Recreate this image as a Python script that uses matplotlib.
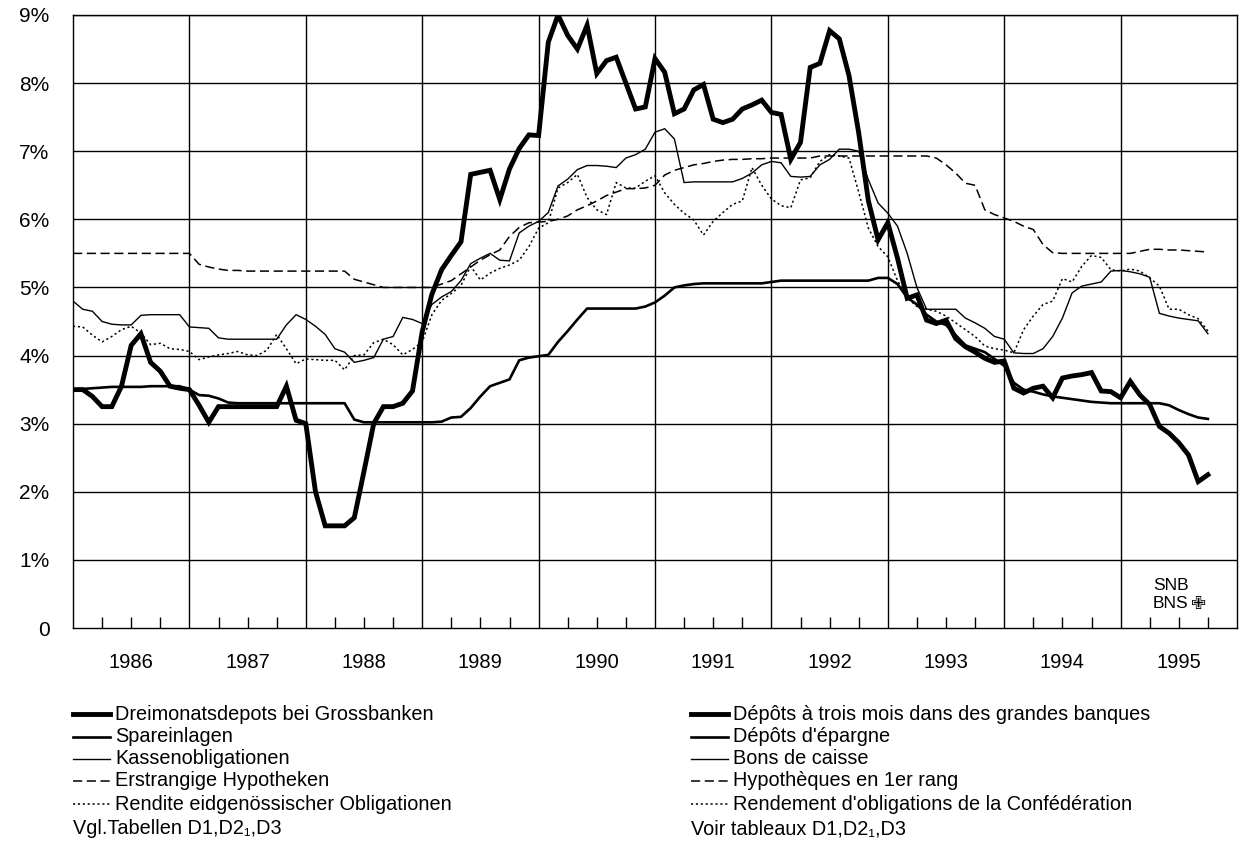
import numpy as np
import matplotlib
matplotlib.use('Agg')
import matplotlib.pyplot as plt
from matplotlib.lines import Line2D
from matplotlib.transforms import blended_transform_factory

plt.rcParams['font.family'] = ['Liberation Sans', 'DejaVu Sans']

# monthly values, Jan 1986 .. Oct 1995 (percent)
dreimonat = [
    3.5, 3.5, 3.4, 3.25, 3.25, 3.55, 4.15, 4.32, 3.9, 3.77, 3.55, 3.52,
    3.5, 3.27, 3.02, 3.25, 3.25, 3.25, 3.25, 3.25, 3.25, 3.25, 3.55, 3.05,
    3.0, 2.0, 1.5, 1.5, 1.5, 1.62, 2.3, 3.0, 3.25, 3.25, 3.3, 3.48,
    4.35, 4.9, 5.26, 5.47, 5.67, 6.66, 6.69, 6.72, 6.29, 6.74, 7.04, 7.24,
    7.23, 8.6, 9.0, 8.7, 8.5, 8.85, 8.14, 8.33, 8.38, 8.0, 7.62, 7.65,
    8.36, 8.16, 7.55, 7.62, 7.9, 7.98, 7.47, 7.42, 7.47, 7.62, 7.68, 7.75,
    7.57, 7.54, 6.88, 7.13, 8.23, 8.29, 8.77, 8.65, 8.11, 7.27, 6.27, 5.7,
    5.95, 5.43, 4.84, 4.89, 4.52, 4.47, 4.52, 4.25, 4.13, 4.05, 3.96, 3.9,
    3.92, 3.52, 3.45, 3.52, 3.55, 3.38, 3.67, 3.70, 3.72, 3.75, 3.48, 3.47,
    3.38, 3.62, 3.42, 3.28, 2.96, 2.86, 2.72, 2.54, 2.15, 2.25,
]
spareinlagen = [
    3.5, 3.51, 3.52, 3.53, 3.54, 3.54, 3.54, 3.54, 3.55, 3.55, 3.55, 3.55,
    3.5, 3.42, 3.41, 3.37, 3.31, 3.3, 3.3, 3.3, 3.3, 3.3, 3.3, 3.3,
    3.3, 3.3, 3.3, 3.3, 3.3, 3.06, 3.02, 3.02, 3.02, 3.02, 3.02, 3.02,
    3.02, 3.02, 3.03, 3.09, 3.1, 3.23, 3.4, 3.55, 3.6, 3.65, 3.93, 3.97,
    3.99, 4.01, 4.2, 4.36, 4.53, 4.69, 4.69, 4.69, 4.69, 4.69, 4.69, 4.72,
    4.78, 4.88, 5.0, 5.03, 5.05, 5.06, 5.06, 5.06, 5.06, 5.06, 5.06, 5.06,
    5.08, 5.1, 5.1, 5.1, 5.1, 5.1, 5.1, 5.1, 5.1, 5.1, 5.1, 5.14,
    5.14, 5.05, 4.85, 4.75, 4.6, 4.5, 4.45, 4.3, 4.15, 4.1, 4.05, 3.95,
    3.85, 3.6, 3.5, 3.47, 3.43, 3.4, 3.38, 3.36, 3.34, 3.32, 3.31, 3.3,
    3.3, 3.3, 3.3, 3.3, 3.3, 3.27, 3.2, 3.14, 3.09, 3.07,
]
kassenobligationen = [
    4.8, 4.68, 4.65, 4.5, 4.46, 4.45, 4.45, 4.59, 4.6, 4.6, 4.6, 4.6,
    4.42, 4.41, 4.4, 4.26, 4.24, 4.24, 4.24, 4.24, 4.24, 4.24, 4.45, 4.6,
    4.53, 4.43, 4.31, 4.1, 4.05, 3.9, 3.93, 3.97, 4.24, 4.28, 4.56, 4.53,
    4.47, 4.75, 4.86, 4.94, 5.1, 5.35, 5.43, 5.5, 5.4, 5.39, 5.8, 5.9,
    5.97, 6.1, 6.49, 6.59, 6.73, 6.79, 6.79, 6.78, 6.76, 6.9, 6.95, 7.03,
    7.28, 7.33, 7.18, 6.54, 6.55, 6.55, 6.55, 6.55, 6.55, 6.6, 6.68, 6.8,
    6.85, 6.83, 6.63, 6.62, 6.63, 6.8, 6.88, 7.03, 7.03, 7.0, 6.58, 6.24,
    6.09, 5.9, 5.5, 5.0, 4.68, 4.68, 4.68, 4.68, 4.55, 4.48, 4.4, 4.28,
    4.24, 4.04, 4.03, 4.03, 4.1, 4.28, 4.55, 4.92, 5.02, 5.05, 5.08, 5.24,
    5.25, 5.23, 5.2, 5.15, 4.62, 4.58, 4.55, 4.53, 4.51, 4.32,
]
hypotheken = [
    5.5, 5.5, 5.5, 5.5, 5.5, 5.5, 5.5, 5.5, 5.5, 5.5, 5.5, 5.5,
    5.5, 5.34, 5.3, 5.27, 5.25, 5.25, 5.24, 5.24, 5.24, 5.24, 5.24, 5.24,
    5.24, 5.24, 5.24, 5.24, 5.24, 5.12, 5.08, 5.04, 5.0, 5.0, 5.0, 5.0,
    5.0, 5.0, 5.05, 5.1, 5.2, 5.3, 5.4, 5.48, 5.55, 5.75, 5.88, 5.95,
    5.96, 5.97, 6.0, 6.05, 6.14, 6.2, 6.27, 6.35, 6.4, 6.45, 6.45, 6.46,
    6.5, 6.65, 6.72, 6.76, 6.8, 6.82, 6.85, 6.87, 6.88, 6.88, 6.89, 6.89,
    6.9, 6.9, 6.9, 6.9, 6.9, 6.93, 6.93, 6.93, 6.93, 6.93, 6.93, 6.93,
    6.93, 6.93, 6.93, 6.93, 6.93, 6.9, 6.8, 6.68, 6.53, 6.5, 6.14, 6.07,
    6.02, 5.97, 5.9, 5.85, 5.63, 5.51, 5.5, 5.5, 5.5, 5.5, 5.5, 5.5,
    5.5, 5.5, 5.53, 5.56, 5.56, 5.55, 5.55, 5.54, 5.53, 5.52,
]
rendite = [
    4.43, 4.42, 4.3, 4.2, 4.28, 4.38, 4.43, 4.33, 4.16, 4.18, 4.1, 4.09,
    4.06, 3.94, 3.98, 4.01, 4.03, 4.06, 4.01, 4.0, 4.08, 4.31, 4.1, 3.88,
    3.95, 3.94, 3.93, 3.93, 3.79, 4.0, 4.01, 4.19, 4.24, 4.16, 4.01, 4.09,
    4.2, 4.6, 4.81, 4.91, 5.03, 5.31, 5.11, 5.21, 5.28, 5.33, 5.4, 5.6,
    5.87, 5.95, 6.46, 6.54, 6.66, 6.32, 6.14, 6.07, 6.54, 6.46, 6.46, 6.56,
    6.64, 6.39, 6.22, 6.09, 5.99, 5.77, 5.97, 6.1, 6.22, 6.27, 6.76, 6.5,
    6.3, 6.2, 6.17, 6.58, 6.61, 6.85, 6.95, 6.93, 6.9, 6.4, 5.87, 5.6,
    5.45, 5.1, 4.85, 4.72, 4.68, 4.65, 4.58, 4.48, 4.38, 4.28, 4.14, 4.1,
    4.08, 4.04, 4.38, 4.58, 4.75, 4.8, 5.13, 5.08, 5.31, 5.47, 5.44, 5.26,
    5.24, 5.27, 5.24, 5.14, 5.02, 4.68, 4.68, 4.6, 4.54, 4.36,
]

years = list(range(1986, 1996))
ytick_labels = ['0', '1%', '2%', '3%', '4%', '5%', '6%', '7%', '8%', '9%']

labels_de = ['Dreimonatsdepots bei Grossbanken', 'Spareinlagen', 'Kassenobligationen',
             'Erstrangige Hypotheken', 'Rendite eidgenössischer Obligationen']
labels_fr = ['Dépôts à trois mois dans des grandes banques', "Dépôts d'épargne", 'Bons de caisse',
             'Hypothèques en 1er rang', "Rendement d'obligations de la Confédération"]

styles = [
    dict(lw=3.5, ls='-'),
    dict(lw=1.9, ls='-'),
    dict(lw=1.0, ls='-'),
    dict(lw=1.1, ls=(0, (6, 3))),
    dict(lw=1.1, ls=(0, (1.4, 1.8))),
]

W, H = 1244, 867
fig = plt.figure(figsize=(W / 100, H / 100), dpi=100)
ax = fig.add_axes([73 / W, 1 - 628 / H, (1237 - 73) / W, (628 - 15) / H])

t = 1986 + np.arange(len(dreimonat)) / 12
series = [dreimonat, spareinlagen, kassenobligationen, hypotheken, rendite]
for vals, st in zip(series, styles):
    ax.plot(t, vals, color='black', solid_joinstyle='miter', **st)

ax.set_xlim(1986, 1996)
ax.set_ylim(0, 9)

# gridlines
for yv in range(1, 10):
    ax.axhline(yv, color='black', lw=1.0, zorder=0)
for yr in years[1:]:
    ax.axvline(yr, color='black', lw=1.0, zorder=0)
for s in ax.spines.values():
    s.set_linewidth(1.0)

ax.set_yticks(range(10))
ax.set_yticklabels(ytick_labels, fontsize=15)
ax.tick_params(axis='y', length=0, pad=17)

ax.set_xticks([y + q for y in years for q in (0.25, 0.5, 0.75)])
ax.set_xticklabels([])
ax.tick_params(axis='x', direction='in', length=8, width=1.0)

trans = blended_transform_factory(ax.transData, fig.transFigure)
for yr in years:
    fig.text(yr + 0.5, 1 - 662 / H, str(yr), transform=trans, fontsize=14.5,
             ha='center', va='center')

# logo
fig.text(1153 / W, 1 - 586 / H, 'SNB', fontsize=12.5, ha='left', va='center')
fig.text(1153 / W, 1 - 604 / H, 'BNS', fontsize=12.5, ha='left', va='center')
fig.text(1191 / W, 1 - 604 / H, '✙', fontsize=13, ha='left', va='center', family='DejaVu Sans')

# legend
rows = [714, 737, 759, 781, 804]
for col_x, labels in ((73, labels_de), (691, labels_fr)):
    for yy, lab, st in zip(rows, labels, styles):
        yf = 1 - yy / H
        fig.add_artist(Line2D([col_x / W, (col_x + 37) / W], [yf, yf], color='black',
                              transform=fig.transFigure, **st))
        fig.text((col_x + 42) / W, yf, lab, fontsize=14.3, ha='left', va='center')

fig.text(73 / W, 1 - 829 / H, 'Vgl.Tabellen D1,D2₁,D3', fontsize=14.3, ha='left', va='center')
fig.text(691 / W, 1 - 829 / H, 'Voir tableaux D1,D2₁,D3', fontsize=14.3, ha='left', va='center')

fig.savefig('out.png', dpi=100)
